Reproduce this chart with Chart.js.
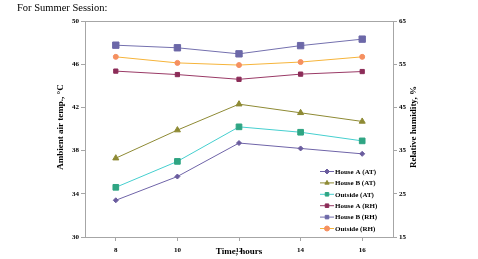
<!DOCTYPE html>
<html>
<head>
<meta charset="utf-8">
<script src="https://cdn.jsdelivr.net/npm/chart.js@4/dist/chart.umd.min.js"></script>
<style>
  html, body { margin: 0; padding: 0; background: #fff; }
  #wrap { position: relative; width: 478px; height: 259px; }
</style>
</head>
<body>
<div id="wrap"><canvas id="chart" width="478" height="259"></canvas></div>
<script>
var hours = ['8', '10', '12', '14', '16'];

// ambient air temperature, deg C (left axis)
var houseA_AT = [33.4, 35.6, 38.7, 38.2, 37.7];
var houseB_AT = [37.3, 39.9, 42.3, 41.5, 40.7];
var outside_AT = [34.6, 37.0, 40.2, 39.7, 38.9];

// relative humidity, % (right axis)
var houseA_RH = [53.4, 52.6, 51.5, 52.7, 53.3];
var houseB_RH = [59.4, 58.8, 57.4, 59.3, 60.8];
var outside_RH = [56.7, 55.3, 54.8, 55.5, 56.7];

var serif = '"Liberation Serif", "DejaVu Serif", serif';

function series(label, data, axis, line, fill, shape, r) {
  return {
    label: label,
    data: data,
    yAxisID: axis,
    borderColor: line,
    backgroundColor: fill,
    pointBackgroundColor: fill,
    pointBorderColor: fill,
    pointStyle: shape,
    pointRadius: r,
    pointHoverRadius: r,
    borderWidth: 1,
    tension: 0
  };
}

// draws title, axis titles, frame and legend inside the plot
var extras = {
  id: 'extras',
  afterDraw: function (chart) {
    var ctx = chart.ctx;
    var a = chart.chartArea;
    ctx.save();
    ctx.strokeStyle = '#a6a6a6';
    ctx.lineWidth = 1;
    ctx.strokeRect(Math.round(a.left) + 0.5, Math.round(a.top) + 0.5, Math.round(a.right - a.left), Math.round(a.bottom - a.top));

    ctx.fillStyle = '#000';
    ctx.textBaseline = 'middle';
    ctx.font = '10.5px ' + serif;
    ctx.textAlign = 'left';
    ctx.fillText('For Summer Session:', 17, 8);

    ctx.font = 'bold 9px ' + serif;
    ctx.textAlign = 'center';
    ctx.fillText('Time, hours', 239, 252);

    ctx.save();
    ctx.translate(61, 127);
    ctx.rotate(-Math.PI / 2);
    ctx.fillText('Ambient air temp., \u00b0C', 0, 0);
    ctx.restore();

    ctx.save();
    ctx.translate(414, 127);
    ctx.rotate(-Math.PI / 2);
    ctx.fillText('Relative humidity, %', 0, 0);
    ctx.restore();

    // legend
    ctx.font = 'bold 7px ' + serif;
    ctx.textAlign = 'left';
    chart.data.datasets.forEach(function (ds, i) {
      var y = 171.5 + i * 11.4;
      ctx.strokeStyle = ds.borderColor;
      ctx.beginPath();
      ctx.moveTo(320, y);
      ctx.lineTo(334, y);
      ctx.stroke();
      ctx.fillStyle = ds.pointBackgroundColor;
      ctx.strokeStyle = ds.pointBorderColor;
      Chart.helpers.drawPoint(ctx, {
        pointStyle: ds.pointStyle,
        radius: Math.min(ds.pointRadius, 2.5),
        borderWidth: 1
      }, 327, y);
      ctx.fillStyle = '#000';
      ctx.fillText(ds.label, 335, y + 0.5);
    });
    ctx.restore();
  }
};

var tickFont = { family: serif, size: 7, weight: 'bold' };

new Chart(document.getElementById('chart'), {
  type: 'line',
  data: {
    labels: hours,
    datasets: [
      series('House A (AT)', houseA_AT, 'yT', '#6f64a8', '#6a5c9e', 'rectRot', 2.5),
      series('House B (AT)', houseB_AT, 'yT', '#8e8a34', '#8e8a34', 'triangle', 3.5),
      series('Outside (AT)', outside_AT, 'yT', '#45cfcf', '#2fa583', 'rect', 4),
      series('House A (RH)', houseA_RH, 'yR', '#9a3a66', '#8c2c58', 'rect', 3),
      series('House B (RH)', houseB_RH, 'yR', '#7470ae', '#6c68a8', 'rect', 4.5),
      series('Outside (RH)', outside_RH, 'yR', '#f6b43a', '#f59060', 'circle', 2.5)
    ]
  },
  options: {
    responsive: false,
    animation: false,
    devicePixelRatio: 1,
    layout: { padding: { top: 21, left: 0, right: 0, bottom: 0 } },
    plugins: {
      legend: { display: false },
      tooltip: { enabled: false }
    },
    scales: {
      x: {
        offset: true,
        grid: { display: true, drawOnChartArea: false, drawTicks: true, tickLength: 4, color: '#a6a6a6' },
        border: { display: true, color: '#a6a6a6' },
        ticks: { font: tickFont, color: '#000', padding: 5 },
        afterFit: function (s) { s.height = 22; }
      },
      yT: {
        position: 'left',
        min: 30,
        max: 50,
        ticks: { stepSize: 4, font: tickFont, color: '#000', padding: 2 },
        grid: { display: true, drawOnChartArea: false, drawTicks: true, tickLength: 4, color: '#a6a6a6' },
        border: { display: true, color: '#a6a6a6' },
        afterFit: function (s) { s.width = 85; }
      },
      yR: {
        position: 'right',
        min: 15,
        max: 65,
        ticks: { stepSize: 10, font: tickFont, color: '#000', padding: 2 },
        grid: { display: true, drawOnChartArea: false, drawTicks: true, tickLength: 4, color: '#a6a6a6' },
        border: { display: true, color: '#a6a6a6' },
        afterFit: function (s) { s.width = 85; }
      }
    }
  },
  plugins: [extras]
});
</script>
</body>
</html>
